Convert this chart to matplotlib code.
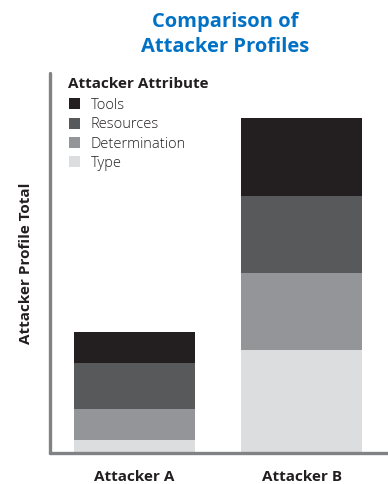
import numpy as np
import matplotlib.pyplot as plt
from matplotlib.patches import Patch

plt.rcParams['font.family'] = ['Open Sans', 'DejaVu Sans']

attackers = ["Attacker A", "Attacker B"]
attributes = ["Type", "Determination", "Resources", "Tools"]   # bottom -> top
colors = ["#dcddde", "#939598", "#58595b", "#231f20"]
values = {
    "Type":          [0.5, 4.0],
    "Determination": [1.2, 3.0],
    "Resources":     [1.8, 3.0],
    "Tools":         [1.2, 3.0],
}

fig = plt.figure(figsize=(3.88, 4.84), dpi=100)
ax = fig.add_axes([0.129, 0.064, 0.871, 0.785])

x = np.arange(len(attackers))
bottom = np.zeros(len(attackers))
for attr, col in zip(attributes, colors):
    ax.bar(x, values[attr], width=0.725, bottom=bottom, color=col, zorder=1)
    bottom += np.array(values[attr])

ax.set_xlim(-0.506, 1.518)
ax.set_ylim(0, 14.76)
ax.set_yticks([])
ax.set_xticks(x)
ax.set_xticklabels(attackers, fontsize=11, fontweight='bold', color='#231f20')
ax.tick_params(axis='x', length=0, pad=12)

for s in ['top', 'right']:
    ax.spines[s].set_visible(False)
for s in ['left', 'bottom']:
    ax.spines[s].set_color('#808285')
    ax.spines[s].set_linewidth(2.4)
    ax.spines[s].set_capstyle('round')
    ax.spines[s].set_zorder(3)

ax.set_ylabel("Attacker Profile Total", fontsize=11, fontweight='bold',
              color='#231f20', labelpad=12)

fig.text(0.58, 0.975, "Comparison of\nAttacker Profiles", ha='center', va='top',
         fontsize=14.5, fontweight='bold', color='#0071c5', linespacing=1.35)

# legend title drawn separately so the swatches sit slightly indented
ax.text(0.053, 0.99, "Attacker Attribute", transform=ax.transAxes,
        fontsize=11, fontweight='bold', color='#231f20', va='top', ha='left')

handles = [Patch(facecolor=c, label=a) for a, c in zip(attributes[::-1], colors[::-1])]
leg = ax.legend(handles=handles, loc='upper left',
                bbox_to_anchor=(0.055, 0.935), frameon=False, fontsize=10.5,
                handlelength=0.8, handleheight=0.8, handletextpad=0.7,
                labelspacing=0.3, borderaxespad=0.0, borderpad=0.0)
for t in leg.get_texts():
    t.set_color('#231f20')
    t.set_fontweight('light')

fig.savefig("out.png", dpi=100)
